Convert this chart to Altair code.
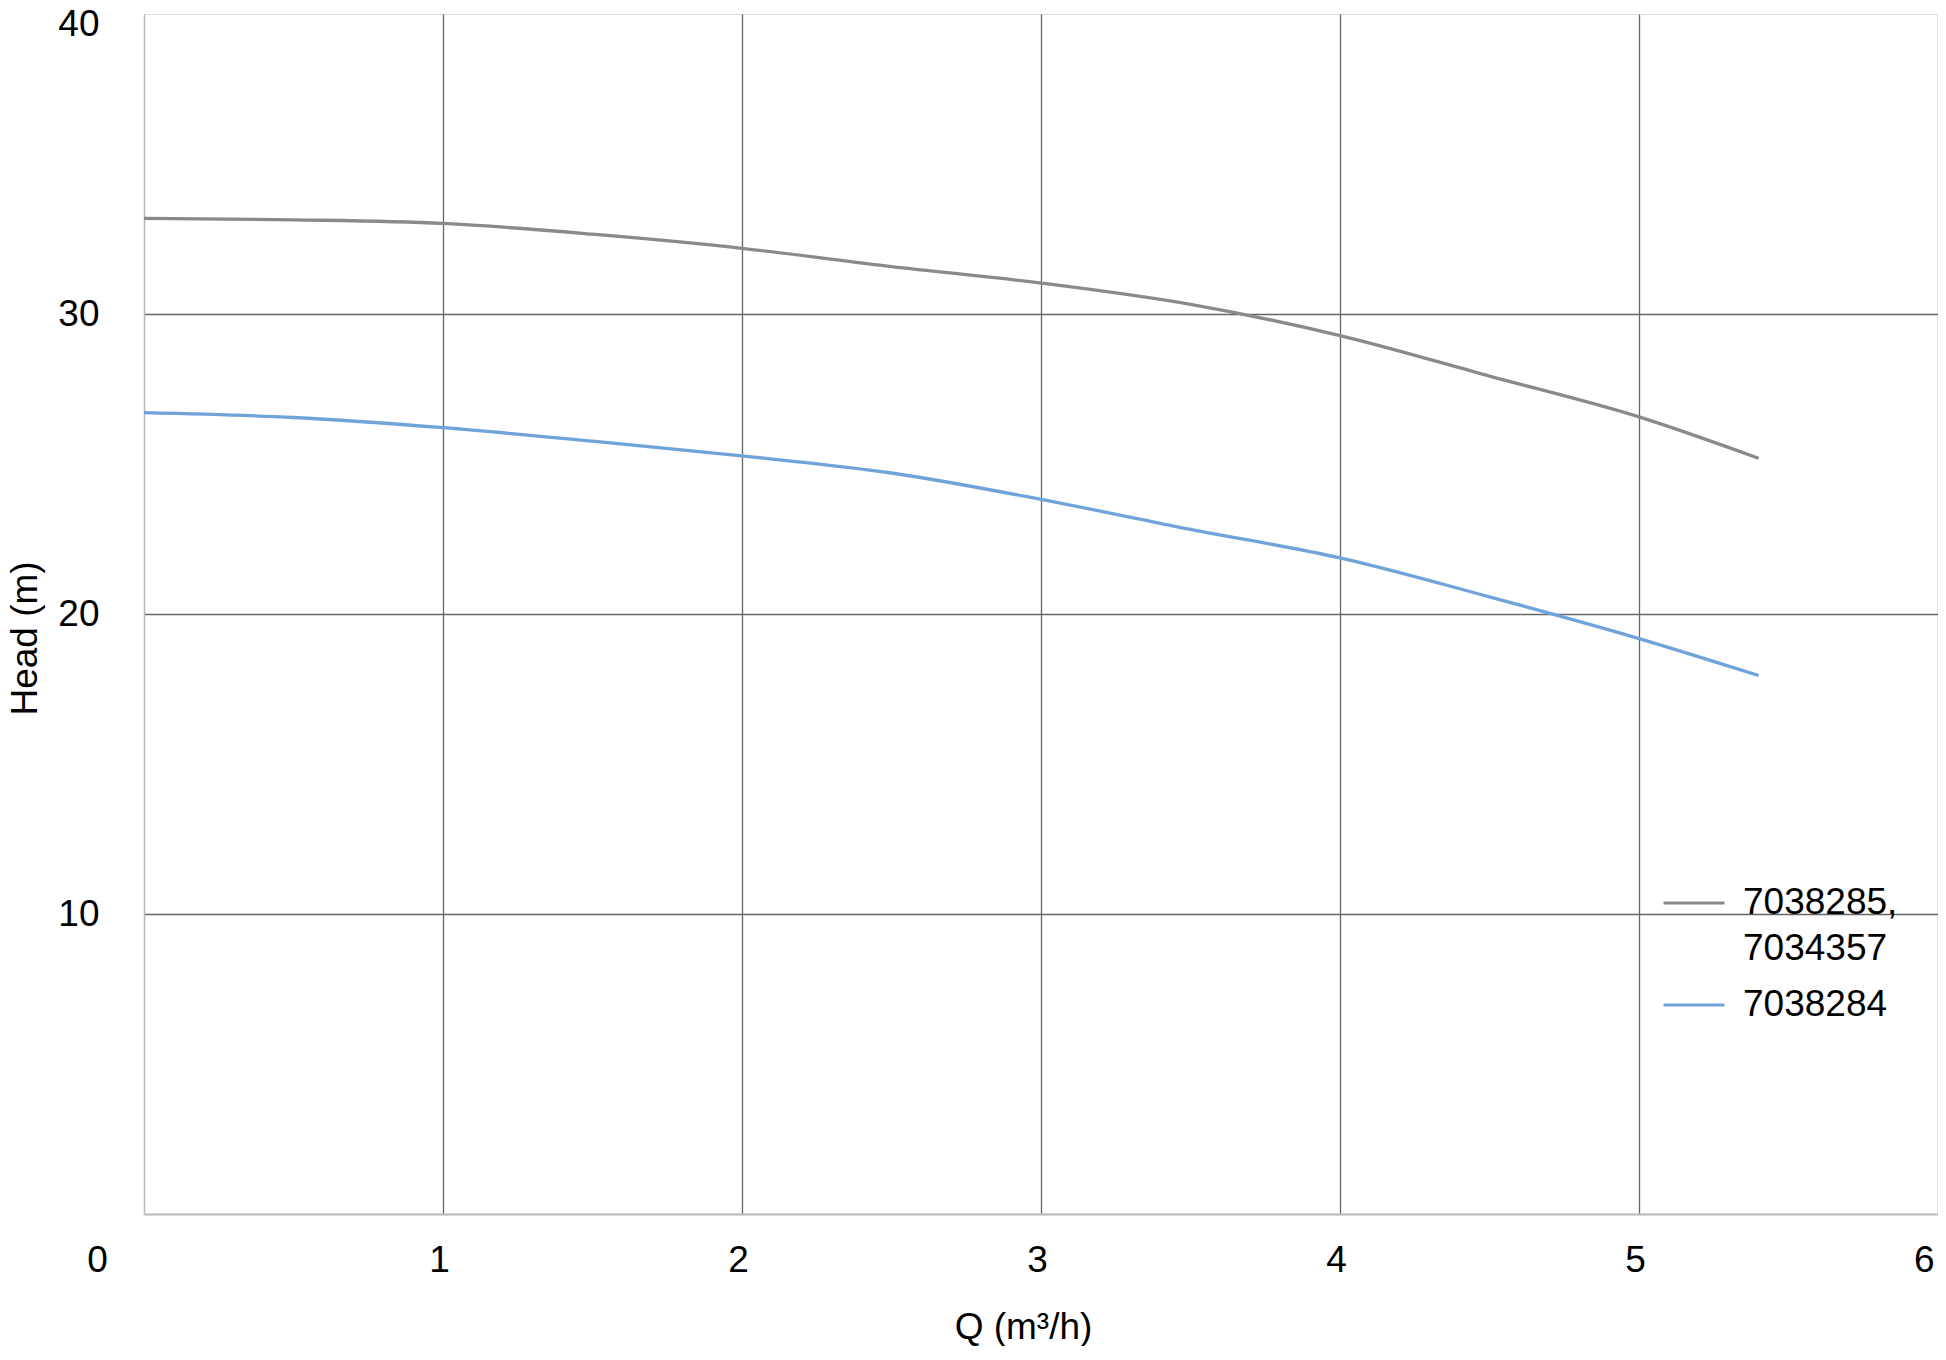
import pandas as pd
import altair as alt

# pump curves (Q in m3/h, head in m)
q = [0, 0.5, 1, 1.5, 2, 2.5, 3, 3.5, 4, 4.5, 5, 5.4]
head_7038285 = [33.19, 33.14, 33.02, 32.66, 32.19, 31.58, 31.03, 30.32, 29.28, 27.93, 26.57, 25.19]
head_7038284 = [26.71, 26.55, 26.21, 25.76, 25.27, 24.70, 23.82, 22.82, 21.87, 20.57, 19.18, 17.95]

series = ["7038285, 7034357", "7038284"]
colors = ["#8a8a8a", "#6fa3d9"]
x_ticks = [0, 1, 2, 3, 4, 5, 6]
y_ticks = [0, 10, 20, 30, 40]

FONT = "Liberation Sans"
FS = 37

curves = pd.concat([
    pd.DataFrame({"q": q, "head": head_7038285, "pump": series[0]}),
    pd.DataFrame({"q": q, "head": head_7038284, "pump": series[1]}),
])

x_axis = alt.Axis(
    values=x_ticks, grid=True, ticks=False, tickSize=0,
    labelFont=FONT, labelFontSize=FS, labelColor="black",
    labelBaseline="middle", labelPadding=46,
    labelAlign={"condition": {"test": "datum.value == 6", "value": "right"}, "value": "center"},
    labelOffset={"condition": {"test": "datum.value == 0", "value": -47}, "value": -4},
    labelFlush=False,
    gridColor="#666666", gridWidth=1.3,
    gridOpacity={"condition": {"test": "datum.value == 0", "value": 0}, "value": 1},
    domainColor="#b8b8b8", domainWidth=2,
    titleFont=FONT, titleFontSize=FS, titleFontWeight="normal", titleColor="black",
    titleX=879, titleY=113, titleBaseline="middle", titleAlign="center",
)

y_axis = alt.Axis(
    values=y_ticks, grid=True, ticks=False, tickSize=0,
    labelExpr="datum.value == 0 ? '' : datum.label",
    labelFont=FONT, labelFontSize=FS, labelColor="black",
    labelPadding=45,
    labelOffset={"condition": {"test": "datum.value == 40", "value": 10}, "value": 0},
    gridColor="#666666", gridWidth=1.3,
    gridOpacity={"condition": {"test": "datum.value == 0 || datum.value == 40", "value": 0}, "value": 1},
    domainColor="#b8b8b8", domainWidth=1.5,
    titleFont=FONT, titleFontSize=FS, titleFontWeight="normal", titleColor="black",
    titleAngle=270, titleX=-119, titleY=624, titleBaseline="middle", titleAlign="center",
)

legend = alt.Legend(
    title=None, orient="none", legendX=1518, legendY=857, padding=0,
    symbolType="stroke", symbolSize=3721, symbolStrokeWidth=3,
    labelFont=FONT, labelFontSize=FS, labelColor="black", labelOffset=17, labelLimit=400,
    rowPadding=6,
    labelExpr="datum.label == '7038285, 7034357' ? ['7038285,', '7034357'] : datum.label",
)

chart = alt.Chart(curves).mark_line(strokeWidth=3.3, interpolate="monotone").encode(
    x=alt.X("q:Q", title="Q (m³/h)", scale=alt.Scale(domain=[0, 6], nice=False), axis=x_axis),
    y=alt.Y("head:Q", title="Head (m)", scale=alt.Scale(domain=[0, 40], nice=False), axis=y_axis),
    color=alt.Color("pump:N", scale=alt.Scale(domain=series, range=colors), legend=legend),
).properties(
    width=1794,
    height=1200,
    autosize="none",
    padding={"left": 136, "top": 6, "right": 0, "bottom": 132},
).configure_view(
    stroke="#b8b8b8", strokeWidth=1.5
).configure(
    background="white",
    style={"guide-label": {"lineHeight": 46}},
)

chart.save("out.html", embed_options={"renderer": "svg", "actions": False})
